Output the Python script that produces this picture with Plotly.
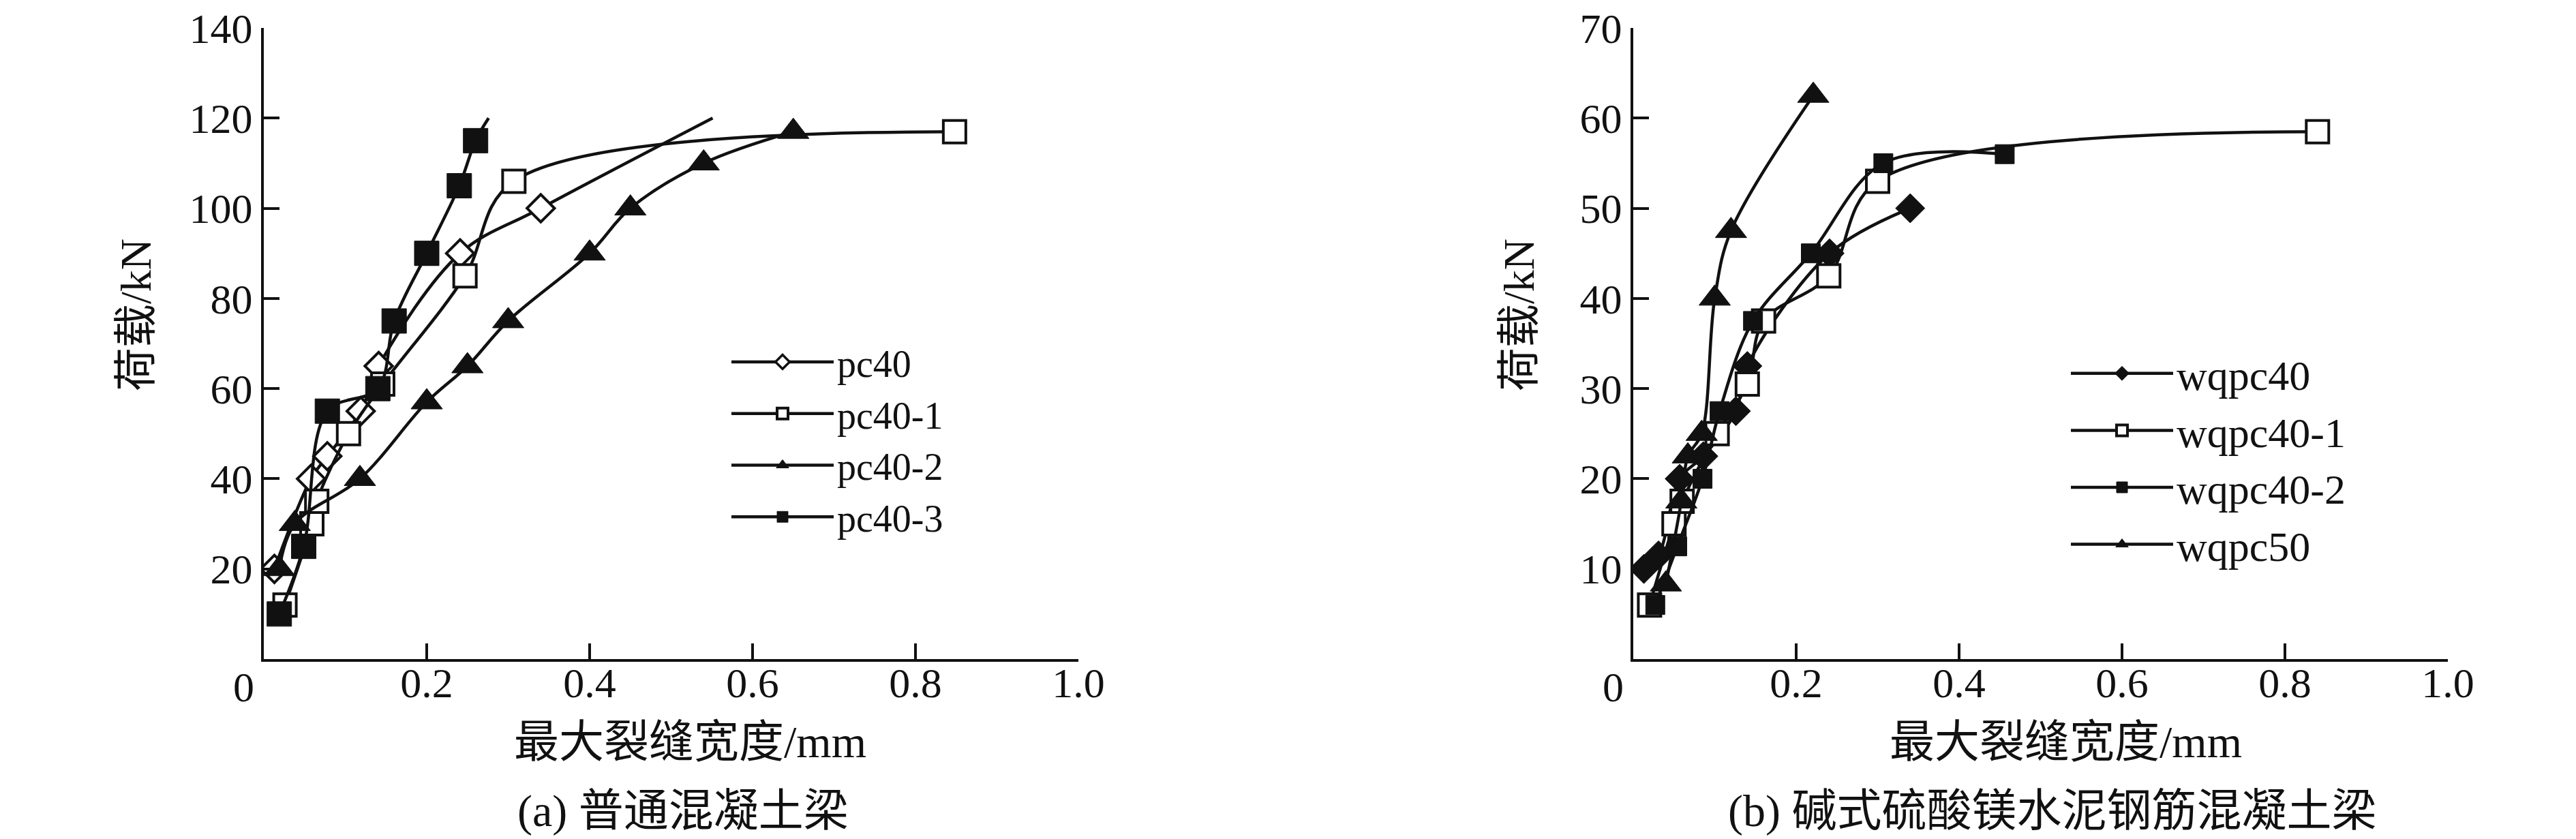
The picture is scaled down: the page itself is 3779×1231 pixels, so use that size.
import plotly.graph_objects as go

# (a) 普通混凝土梁 - 最大裂缝宽度 (mm) / 荷载 (kN)
pc40_x = [0.013, 0.058, 0.078, 0.119, 0.141, 0.241, 0.340, 0.551]
pc40_y = [20, 40, 45, 55, 65, 90, 100, 120]
pc40_1_x = [0.026, 0.059, 0.065, 0.104, 0.146, 0.247, 0.307, 0.848]
pc40_1_y = [12, 30, 35, 50, 61, 85, 106, 117]
pc40_2_x = [0.019, 0.038, 0.118, 0.200, 0.250, 0.300, 0.400, 0.450, 0.540, 0.650]
pc40_2_y = [20, 30, 40, 57, 65, 75, 90, 100, 110, 117]
pc40_3_x = [0.019, 0.049, 0.078, 0.140, 0.160, 0.200, 0.240, 0.260, 0.276]
pc40_3_y = [10, 25, 55, 60, 75, 90, 105, 115, 120]

# (b) 碱式硫酸镁水泥钢筋混凝土梁
wq40_x = [0.013, 0.031, 0.057, 0.086, 0.126, 0.140, 0.241, 0.340]
wq40_y = [10, 11.5, 20, 22.5, 27.5, 32.5, 45, 50]
wq40_1_x = [0.020, 0.050, 0.060, 0.103, 0.140, 0.160, 0.240, 0.300, 0.840]
wq40_1_y = [6, 15, 17.5, 25, 30.5, 37.5, 42.5, 53, 58.5]
wq40_2_x = [0.027, 0.054, 0.085, 0.106, 0.147, 0.218, 0.307, 0.456]
wq40_2_y = [6, 12.5, 20, 27.5, 37.5, 45, 55, 56]
wq50_x = [0.040, 0.059, 0.067, 0.084, 0.100, 0.120, 0.221]
wq50_y = [8.3, 17.5, 22.5, 25, 40, 47.5, 62.5]

x_ticks = [0.2, 0.4, 0.6, 0.8, 1.0]
x_ticktext = ["0.2", "0.4", "0.6", "0.8", "1.0"]
ya_ticks = [20, 40, 60, 80, 100, 120, 140]
yb_ticks = [10, 20, 30, 40, 50, 60, 70]

W, H = 3779, 1231
OFF = 8  # margem padrão do <body> na página
INK = "#111111"
SERIF = "Liberation Serif, 'Times New Roman', serif"
CJK = "'Liberation Serif', 'Noto Sans CJK SC', serif"


def px_x(p):
    return (p - OFF) / W


def px_y(p):
    return 1 - (p - OFF) / H


def serie(x, y, nome, simbolo, tam, aberto, xa, ya, leg, cauda=False):
    n = len(x)
    tamanhos = [tam] * n
    larg = [4 if aberto else 1] * n
    if cauda:  # último ponto só fecha a curva, sem marcador
        tamanhos[-1] = 0
        larg[-1] = 0
    return go.Scatter(
        x=x, y=y, name=nome, xaxis=xa, yaxis=ya, legend=leg,
        mode="lines+markers",
        line=dict(color=INK, width=4.5, shape="spline"),
        marker=dict(symbol=simbolo, size=tamanhos, opacity=1,
                    color="white" if aberto else INK,
                    line=dict(color=INK, width=larg)),
    )


fig = go.Figure()
fig.add_trace(serie(pc40_x, pc40_y, "pc40", "diamond", 31, True, "x", "y", "legend", cauda=True))
fig.add_trace(serie(pc40_1_x, pc40_1_y, "pc40-1", "square", 33, True, "x", "y", "legend"))
fig.add_trace(serie(pc40_2_x, pc40_2_y, "pc40-2", "triangle-up", 40, False, "x", "y", "legend"))
fig.add_trace(serie(pc40_3_x, pc40_3_y, "pc40-3", "square", 36, False, "x", "y", "legend", cauda=True))

fig.add_trace(serie(wq40_x, wq40_y, "wqpc40", "diamond", 33, False, "x2", "y2", "legend2"))
fig.add_trace(serie(wq40_1_x, wq40_1_y, "wqpc40-1", "square", 33, True, "x2", "y2", "legend2"))
fig.add_trace(serie(wq40_2_x, wq40_2_y, "wqpc40-2", "square", 28, False, "x2", "y2", "legend2"))
fig.add_trace(serie(wq50_x, wq50_y, "wqpc50", "triangle-up", 40, False, "x2", "y2", "legend2"))

eixo = dict(showline=True, linewidth=4, linecolor=INK, ticks="inside", ticklen=23,
            tickwidth=4, tickcolor=INK, showgrid=False, zeroline=False,
            ticklabeloverflow="allow", automargin=False,
            tickfont=dict(family=SERIF, size=62, color=INK))

y_dom = [px_y(967), px_y(41)]
fig.update_layout(
    width=W, height=H,
    paper_bgcolor="white", plot_bgcolor="white",
    margin=dict(l=0, r=0, t=0, b=0, autoexpand=False),
    showlegend=True,
    xaxis=dict(domain=[px_x(387), px_x(1582)], range=[0, 1.0], tickvals=x_ticks,
               ticktext=x_ticktext, anchor="y", ticklabelstandoff=-22, **eixo),
    yaxis=dict(domain=y_dom, range=[0, 140], tickvals=ya_ticks, anchor="x", **eixo),
    xaxis2=dict(domain=[px_x(2396), px_x(3591)], range=[0, 1.0], tickvals=x_ticks,
                ticktext=x_ticktext, anchor="y2", ticklabelstandoff=-22, **eixo),
    yaxis2=dict(domain=y_dom, range=[0, 70], tickvals=yb_ticks, anchor="x2", **eixo),
    legend=dict(x=px_x(1068), y=px_y(488), xanchor="left", yanchor="top",
                itemwidth=150, bgcolor="rgba(0,0,0,0)",
                font=dict(family=SERIF, size=56, color=INK)),
    legend2=dict(x=px_x(3033), y=px_y(501), xanchor="left", yanchor="top",
                 itemwidth=150, bgcolor="rgba(0,0,0,0)",
                 font=dict(family=SERIF, size=62, color=INK)),
)

textos = [
    ("0", 357, 1008, 62, 0),
    ("0", 2366, 1008, 62, 0),
    ("荷载/kN", 200, 462, 64, -90),
    ("荷载/kN", 2229, 462, 64, -90),
    ("最大裂缝宽度/mm", 1012, 1088, 66, 0),
    ("最大裂缝宽度/mm", 3030, 1088, 66, 0),
    ("(a) 普通混凝土梁", 1002, 1190, 66, 0),
    ("(b) 碱式硫酸镁水泥钢筋混凝土梁", 3010, 1190, 66, 0),
]
for txt, cx, cy, tam, ang in textos:
    fig.add_annotation(text=txt, x=px_x(cx), y=px_y(cy), xref="paper", yref="paper",
                       xanchor="center", yanchor="middle", showarrow=False, textangle=ang,
                       font=dict(family=SERIF if txt == "0" else CJK, size=tam, color=INK))

fig.write_html("out.html")
